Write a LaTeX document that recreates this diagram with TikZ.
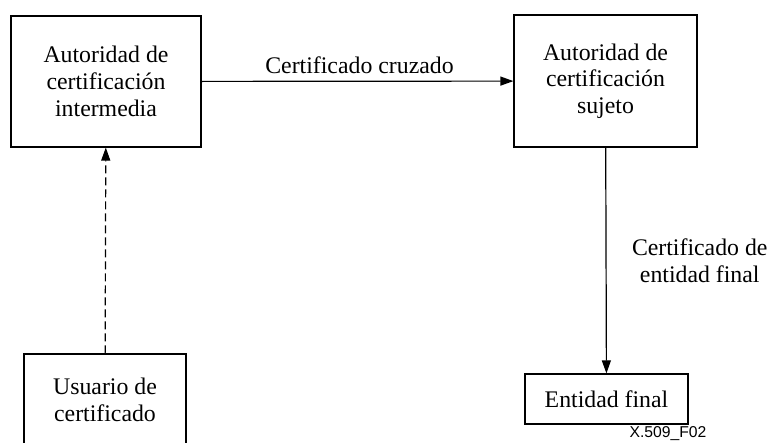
\documentclass[tikz,border=0pt]{standalone}
\usepackage{fontspec}
\setmainfont{Liberation Serif}
\setsansfont{Liberation Sans}
\usetikzlibrary{arrows.meta}
\begin{document}
\begin{tikzpicture}[x=1pt,y=-1pt,line width=1.2pt,
                    >={Triangle[length=13pt,width=9pt]},
                    box/.style={draw,align=center,inner sep=0pt},
                    every node/.style={font=\rmfamily\fontsize{23.8}{26.7}\selectfont}]
\clip (0,0) rectangle (770,443);
\node[box, minimum width=190, minimum height=131] (A) at (106,81.5) {Autoridad de\\certificaci\'on\\intermedia};
\node[box, minimum width=183, minimum height=132] (B) at (605.5,81) {Autoridad de\\certificaci\'on\\sujeto};
\node[box, minimum width=162, minimum height=92] (U) at (105,400) {Usuario de\\certificado};
\node[box, minimum width=163, minimum height=50] (E) at (606.5,399) {Entidad final};
\node[anchor=north, inner sep=0pt, font=\sffamily\fontsize{15.7}{17}\selectfont] (F) at (668,426) {X.509\_F02};

\draw[->] (A) to node[above=4pt, xshift=2pt] {Certificado cruzado} (B);
\draw[->] (B) to node[right=22pt, align=center] {Certificado de\\entidad final} (E);
\draw[->, dash pattern=on 8pt off 4pt] (U) to (A);

\end{tikzpicture}
\end{document}
